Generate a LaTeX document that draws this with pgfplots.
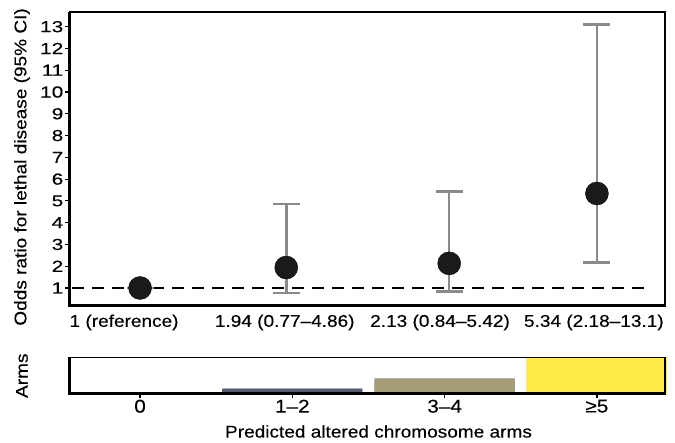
\documentclass[border=0pt]{standalone}
\usepackage{pgfplots}
\pgfplotsset{compat=1.18}
\usepackage{pgfplotstable}
\usepackage{fontspec}
\setmainfont{Liberation Sans}[FakeStretch=1.12, FakeBold=0.3]
\newfontfamily\ytickfont{Liberation Sans}[FakeStretch=1.3, FakeBold=0.3]
\definecolor{cv0}{HTML}{00204D}
\definecolor{cv1}{HTML}{575C6D}
\definecolor{cv2}{HTML}{A69D75}
\definecolor{cv3}{HTML}{FFEA46}
\definecolor{cigray}{HTML}{8A8A8A}
\definecolor{ptblack}{HTML}{1A1A1A}
\pgfplotstableread{
x y ep em
0 1 0 0
0.96 1.94 2.92 1.17
2.03 2.13 3.29 1.29
3 5.34 7.76 3.16
}\ortable
\pgfplotstableread{
x h
0 0
1 0.15
2 0.42
3 1.0
}\armtable
\begin{document}
\begin{tikzpicture}
\begin{axis}[
  at={(0pt,0pt)}, anchor=south west,
  scale only axis, width=595pt, height=294pt,
  xmin=-0.46, xmax=3.447, ymin=0.173, ymax=13.675,
  clip=false,
  ytick={1,2,3,4,5,6,7,8,9,10,11,12,13},
  xtick={-0.105,0.95,1.97,2.98},
  xticklabels={1 (reference),1.94 (0.77–4.86),2.13 (0.84–5.42),5.34 (2.18–13.1)},
  x tick style={draw=none},
  xtick pos=bottom, ytick pos=left,
  tick align=outside, major tick length=5pt,
  y tick style={line width=1.2pt, black},
  axis line style={line width=1.5pt},
  /pgf/number format/assume math mode=true,
  xticklabel style={font=\fontsize{17}{19}\selectfont},
  yticklabel style={inner sep=1.5pt, font=\ytickfont\fontsize{16}{19}\selectfont},
  ylabel={Odds ratio for lethal disease (95\% CI)},
  ylabel style={at={(axis description cs:-0.0807,0.473)}, anchor=center, font=\fontsize{17}{19}\selectfont},
]
\draw[line width=3pt] (rel axis cs:0,1) -- (rel axis cs:0,0) -- (rel axis cs:1,0);
\addplot[black, line width=2.5pt, dash pattern=on 12pt off 8pt] coordinates {(-0.446,1) (3.36,1)};
\addplot[only marks, mark=none, cigray,
  error bars/.cd, y dir=both, y explicit,
  error bar style={line width=2.5pt, cigray},
  error mark options={rotate=90, line width=2.5pt, cigray, mark size=13.5pt}]
  table[x=x, y=y, y error plus=ep, y error minus=em] {\ortable};
\addplot[only marks, mark=*, mark size=11.5pt, mark options={fill=ptblack, draw=none}]
  table[x=x, y=y] {\ortable};
\end{axis}
\begin{axis}[
  at={(0pt,-88pt)}, anchor=south west,
  scale only axis, width=595pt, height=36.5pt,
  xmin=-0.46, xmax=3.447, ymin=0, ymax=1,
  clip=false,
  ytick=\empty,
  xtick={0,1,2,3},
  xticklabels={0,1–2,3–4,≥5},
  xtick pos=bottom,
  tick align=outside, major tick length=4pt,
  x tick style={line width=1.2pt, black},
  axis line style={line width=1.5pt},
  /pgf/number format/assume math mode=true,
  xticklabel style={font=\fontsize{18.5}{20}\selectfont, inner sep=1.5pt},
  ylabel={Arms},
  ylabel style={at={(axis description cs:-0.0807,0.5)}, anchor=center, font=\fontsize{17}{19}\selectfont},
  xlabel={Predicted altered chromosome arms},
  xlabel style={at={(axis description cs:0.5,0)}, xshift=11pt, yshift=-37.5pt, anchor=center, font=\fontsize{17}{19}\selectfont},
]
\addplot[ybar, bar width=0.92, bar shift=0pt, fill=cv0, draw=none] table[x=x, y=h] {\armtable};
\addplot[ybar, bar width=0.92, bar shift=0pt, fill=cv1, draw=none] coordinates {(1,0.15)};
\addplot[ybar, bar width=0.92, bar shift=0pt, fill=cv2, draw=none] coordinates {(2,0.42)};
\addplot[ybar, bar width=0.92, bar shift=0pt, fill=cv3, draw=none] coordinates {(3,1.0)};
\draw[line width=1.5pt] (rel axis cs:0,0) rectangle (rel axis cs:1,1);
\draw[line width=3pt] (rel axis cs:0,1) -- (rel axis cs:0,0) -- (rel axis cs:1,0);
\end{axis}
\pgfresetboundingbox
\path[use as bounding box] (-70pt,-137pt) rectangle (605pt,306pt);
\end{tikzpicture}
\end{document}
